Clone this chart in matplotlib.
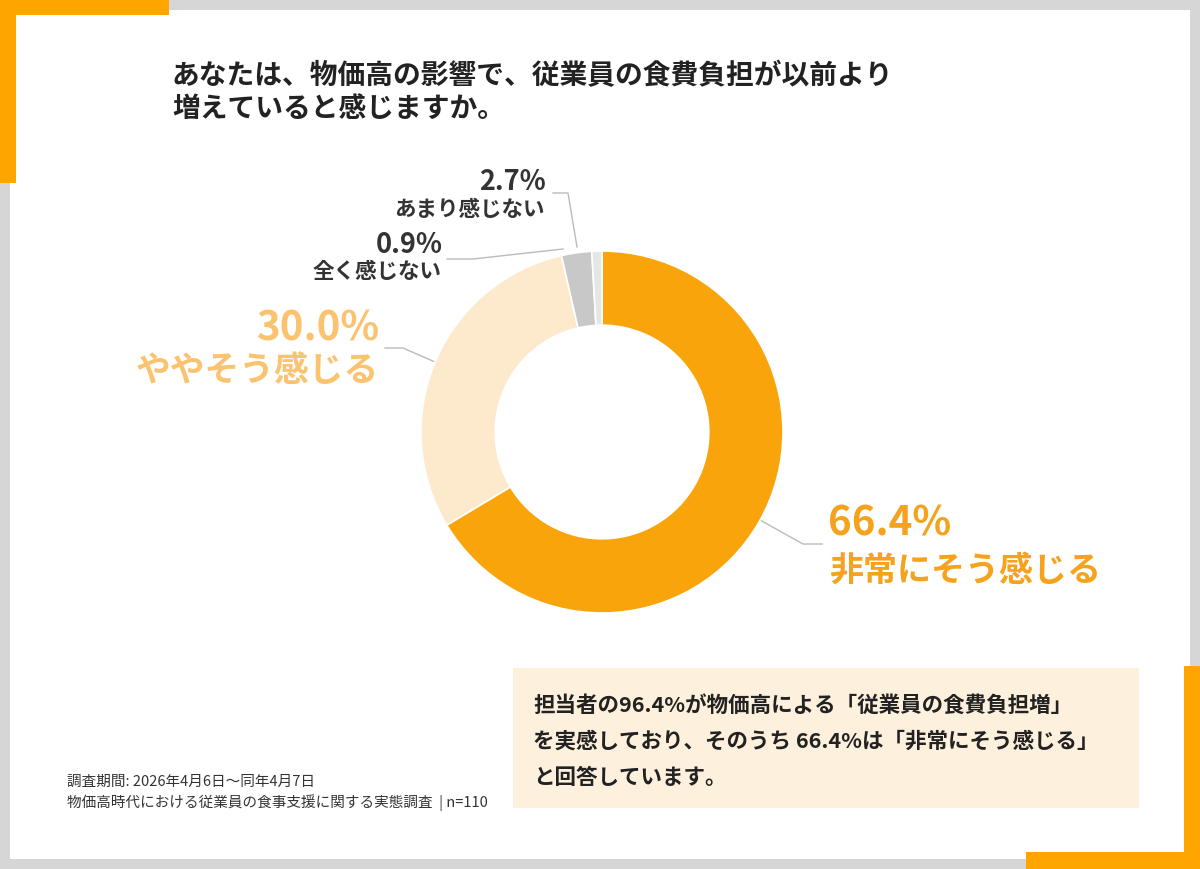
import matplotlib
matplotlib.use("Agg")
import matplotlib.pyplot as plt
from matplotlib.patches import Rectangle

plt.rcParams['font.family'] = ['Noto Sans CJK JP', 'DejaVu Sans']

# ---- data ----
categories = ["非常にそう感じる", "ややそう感じる", "あまり感じない", "全く感じない"]
values = [66.4, 30.0, 2.7, 0.9]
pct_labels = ["66.4%", "30.0%", "2.7%", "0.9%"]
colors = ["#F9A40B", "#FDE9CB", "#C8C8C8", "#E6E6E6"]

title_lines = ["あなたは、物価高の影響で、従業員の食費負担が以前より", "増えていると感じますか。"]
box_lines = ["担当者の96.4%が物価高による「従業員の食費負担増」",
             "を実感しており、そのうち 66.4%は「非常にそう感じる」",
             "と回答しています。"]
footer_lines = ["調査期間: 2026年4月6日～同年4月7日",
                "物価高時代における従業員の食事支援に関する実態調査  | n=110"]

W, H = 1200, 869
fig = plt.figure(figsize=(W / 100, H / 100), dpi=100)
fig.patch.set_facecolor("white")

# overlay axes in pixel coordinates (y down)
ov = fig.add_axes([0, 0, 1, 1])
ov.set_xlim(0, W)
ov.set_ylim(H, 0)
ov.axis("off")

GRAY = "#D6D6D6"
ORANGE = "#FFA500"
# gray frame
ov.add_patch(Rectangle((0, 0), W, 10, color=GRAY, lw=0))
ov.add_patch(Rectangle((0, H - 10), W, 10, color=GRAY, lw=0))
ov.add_patch(Rectangle((0, 0), 10, H, color=GRAY, lw=0))
ov.add_patch(Rectangle((W - 10, 0), 10, H, color=GRAY, lw=0))
# orange corners
ov.add_patch(Rectangle((0, 0), 169, 15, color=ORANGE, lw=0))
ov.add_patch(Rectangle((0, 0), 16, 183, color=ORANGE, lw=0))
ov.add_patch(Rectangle((1026, 852), W - 1026, H - 852, color=ORANGE, lw=0))
ov.add_patch(Rectangle((1184, 666), W - 1184, H - 666, color=ORANGE, lw=0))

# title
for i, t in enumerate(title_lines):
    ov.text(172, 76 + i * 33, t, fontsize=20, fontweight="bold", color="#222222",
            ha="left", va="center")

# donut
cx, cy, R = 602, 432, 181
pax = fig.add_axes([(cx - R) / W, (H - cy - R) / H, 2 * R / W, 2 * R / H])
pax.pie(values, colors=colors, startangle=90, counterclock=False,
        wedgeprops=dict(width=0.41, edgecolor="white", linewidth=1.2))
pax.set_xlim(-1, 1)
pax.set_ylim(-1, 1)
pax.set_aspect("equal")
pax.axis("off")

line_kw = dict(color="#BBBBBB", lw=1.0)
# leader lines
ov.plot([760, 803, 822], [520, 544, 544], **line_kw)
ov.plot([385, 403, 435], [348, 348, 362], **line_kw)
ov.plot([447, 473, 563], [259, 259, 249], **line_kw)
ov.plot([553, 568, 577], [193, 193, 247], **line_kw)

# labels
ov.text(828, 524, pct_labels[0], fontsize=29, fontweight="bold", color="#F5A21C",
        ha="left", va="center")
ov.text(829, 570, categories[0], fontsize=24.5, fontweight="bold", color="#F5A21C",
        ha="left", va="center")
ov.text(379, 329, pct_labels[1], fontsize=29, fontweight="bold", color="#FBC36F",
        ha="right", va="center")
ov.text(379, 371, categories[1], fontsize=25, fontweight="bold", color="#FBC36F",
        ha="right", va="center")
ov.text(546, 182, pct_labels[2], fontsize=19.5, fontweight="bold", color="#333333",
        ha="right", va="center")
ov.text(545, 209, categories[2], fontsize=15.5, fontweight="bold", color="#333333",
        ha="right", va="center")
ov.text(443, 245, pct_labels[3], fontsize=19.5, fontweight="bold", color="#333333",
        ha="right", va="center")
ov.text(442, 272, categories[3], fontsize=15.5, fontweight="bold", color="#333333",
        ha="right", va="center")

# highlight box
ov.add_patch(Rectangle((513, 668), 626, 140, color="#FDF0DD", lw=0))
for i, t in enumerate(box_lines):
    ov.text(533, 705 + i * 36, t, fontsize=15.5, fontweight="bold", color="#222222",
            ha="left", va="center")

# footer
for i, t in enumerate(footer_lines):
    ov.text(67, 782 + i * 21, t, fontsize=10.5, color="#333333", ha="left", va="center")

fig.savefig("out.png", dpi=100, facecolor="white")
